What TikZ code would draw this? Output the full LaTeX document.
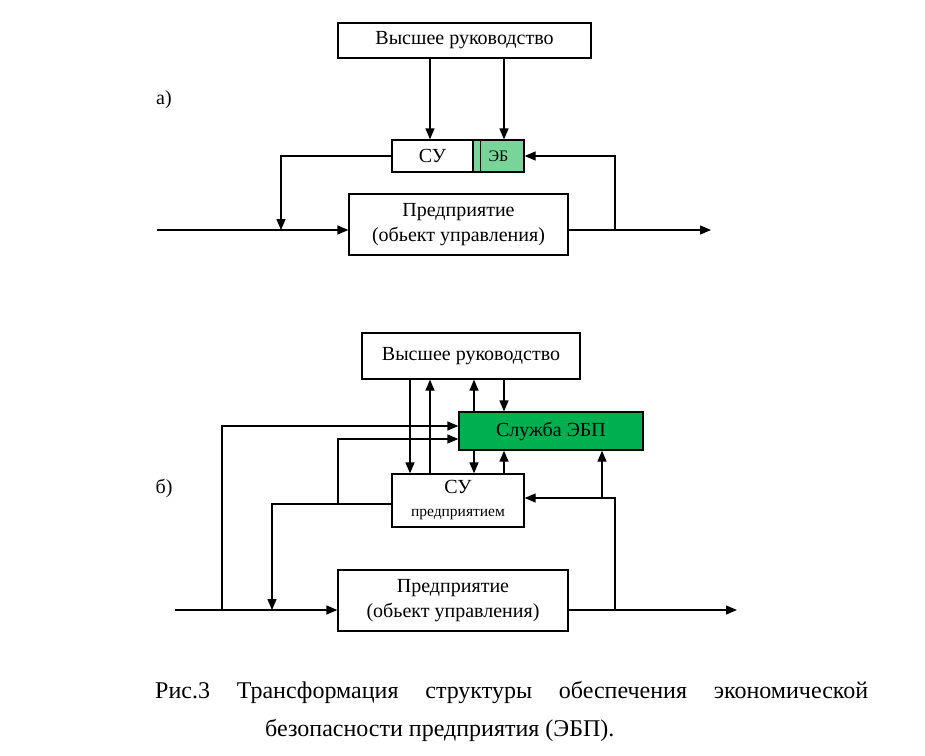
\documentclass[tikz,border=0pt]{standalone}
\usepackage{fontspec}
\setmainfont{Liberation Serif}
\usetikzlibrary{arrows.meta,calc}
\definecolor{lightgr}{RGB}{120,212,152}
\definecolor{darkgr}{RGB}{0,176,80}
\begin{document}
\begin{tikzpicture}[x=1pt,y=-1pt,
  box/.style={draw=black,line width=1.3pt,fill=white,inner sep=0pt,align=center,font=\fontsize{20}{25}\selectfont},
  ln/.style={line width=1.3pt},
  arr/.style={line width=1.3pt,-{Triangle[length=11pt,width=9pt]}},
  lbl/.style={inner sep=0pt,font=\fontsize{20}{24}\selectfont}]
\useasboundingbox (0,0) rectangle (925,755);
% ---------- part a ----------
\node[lbl] (la) at (164,100) {а)};
\node[box,minimum width=253pt,minimum height=35pt] (top1) at (464.5,40.5) {Высшее руководство};
\node[box,minimum width=81pt,minimum height=32pt] (su1) at (432.5,156) {СУ};
\node[box,fill=lightgr,minimum width=51pt,minimum height=32pt,font=\fontsize{16}{18}\selectfont] (eb1) at (498.5,156) {ЭБ};
\draw[ln] ($(eb1.north west)+(8,0)$) -- ($(eb1.south west)+(8,0)$);
\node[box,minimum width=219pt,minimum height=61pt] (pr1) at (458.5,224.5) {Предприятие\\(обьект управления)};
\coordinate (a430) at (430,0);
\coordinate (a504) at (504,0);
\coordinate (a281) at (281,0);
\coordinate (a615) at (615,0);
\coordinate (ain) at (157,230);
\coordinate (aout) at (711,230);
\draw[arr] (top1.south -| a430) -- (su1.north -| a430);
\draw[arr] (top1.south -| a504) -- (eb1.north -| a504);
\draw[arr] (ain) -- (ain -| pr1.west);
\draw[arr] (ain -| pr1.east) -- (aout);
\draw[arr] (su1.west) -| (ain -| a281);
\draw[arr] (aout -| a615) |- (eb1.east);
% ---------- part b ----------
\node[lbl] (lb) at (164,488) {б)};
\node[box,minimum width=218pt,minimum height=46pt] (top2) at (471,356) {Высшее руководство};
\node[box,fill=darkgr,minimum width=184pt,minimum height=38pt] (sl) at (551,431) {Служба ЭБП};
\node[box,minimum width=132pt,minimum height=53pt] (su2) at (458,500.5) {СУ\\[-2pt]{\fontsize{15.5}{17}\selectfont предприятием}};
\node[box,minimum width=230pt,minimum height=61pt] (pr2) at (453,600.5) {Предприятие\\(обьект управления)};
\coordinate (b410) at (410,0);
\coordinate (b430) at (430,0);
\coordinate (b474) at (474,0);
\coordinate (b504) at (504,0);
\coordinate (b222) at (222,0);
\coordinate (b272) at (272,0);
\coordinate (b338) at (338,0);
\coordinate (b602) at (602,0);
\coordinate (b615) at (615,0);
\coordinate (bin) at (175,610);
\coordinate (bout) at (737,610);
\coordinate (y426) at (0,426);
\coordinate (y439) at (0,439);
\coordinate (y504) at (0,504);
\coordinate (y498) at (0,498);
\draw[arr] (top2.south -| b410) -- (su2.north -| b410);
\draw[arr] (su2.north -| b430) -- (top2.south -| b430);
\draw[arr] (sl.north -| b474) -- (top2.south -| b474);
\draw[arr] (top2.south -| b504) -- (sl.north -| b504);
\draw[arr] (sl.south -| b474) -- (su2.north -| b474);
\draw[arr] (su2.north -| b504) -- (sl.south -| b504);
\draw[arr] (bin) -- (bin -| pr2.west);
\draw[arr] (bin -| pr2.east) -- (bout);
\draw[arr] (bin -| b222) |- (sl.west |- y426);
\draw[arr] (su2.west |- y504) -| (bin -| b272);
\draw[arr] (y504 -| b338) |- (sl.west |- y439);
\draw[arr] (bout -| b615) |- (su2.east |- y498);
\draw[arr] (y498 -| b602) -- (sl.south -| b602);
% ---------- caption ----------
\node[inner sep=0pt,anchor=base west,font=\fontsize{24}{28}\selectfont] (cap1) at (155,698)
  {\makebox[713pt][s]{Рис.3\hfill Трансформация\hfill структуры\hfill обеспечения\hfill экономической}};
\node[inner sep=0pt,anchor=base west,font=\fontsize{24}{28}\selectfont] (cap2) at (265,736)
  {безопасности предприятия (ЭБП).};
\end{tikzpicture}
\end{document}
